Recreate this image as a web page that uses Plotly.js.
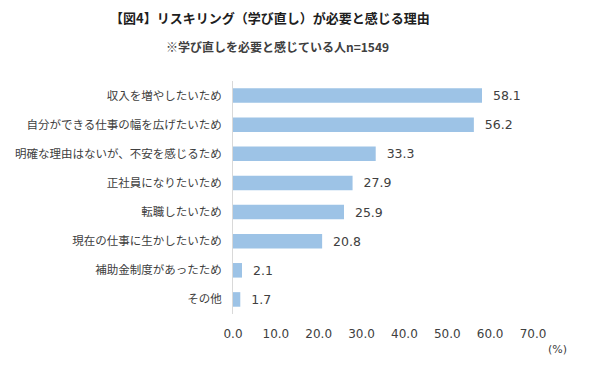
<!DOCTYPE html>
<html><head><meta charset="utf-8">
<script src="https://cdn.plot.ly/plotly-3.0.1.min.js"></script>
<style>html,body{margin:0;padding:0;background:#fff;}</style>
</head><body>
<div id="chart" style="width:590px;height:369px;"></div>
<script>
const categories = ["収入を増やしたいため","自分ができる仕事の幅を広げたいため","明確な理由はないが、不安を感じるため","正社員になりたいため","転職したいため","現在の仕事に生かしたいため","補助金制度があったため","その他"];
const values = [58.1, 56.2, 33.3, 27.9, 25.9, 20.8, 2.1, 1.7];
const xTicks = [0,10,20,30,40,50,60,70];
const font = "'Noto Sans CJK JP', 'Noto Sans', sans-serif";
const numFont = "'DejaVu Sans', Verdana, sans-serif";
const trace = {
  type: 'bar', orientation: 'h',
  x: values, y: categories,
  marker: {color: '#9DC3E6'},
  text: values.map(v => '\u00a0\u00a0' + v.toFixed(1)),
  textposition: 'outside', cliponaxis: false, constraintext: 'none',
  textfont: {family: numFont, size: 12.5, color: '#404040'},
  hoverinfo: 'none'
};
const layout = {
  width: 590, height: 369,
  margin: {l: 233, r: 57, t: 81, b: 55},
  paper_bgcolor: '#fff', plot_bgcolor: '#fff',
  showlegend: false,
  bargap: 0.5,
  font: {family: font, color: '#404040'},
  xaxis: {range: [0,70], tickvals: xTicks, ticktext: xTicks.map(v=>v.toFixed(1)),
    showgrid: false, zeroline: false, showline: false, ticks: '',
    ticklabelstandoff: 11,
    tickfont: {family: numFont, size: 12, color: '#404040'}, fixedrange: true},
  yaxis: {autorange: 'reversed', showgrid: false, zeroline: false,
    showline: true, linecolor: '#d9d9d9', linewidth: 1, ticks: '',
    ticklabelstandoff: 8,
    tickfont: {size: 11.5, color: '#404040'}, fixedrange: true},
  annotations: [
    {text: '<b>【図4】リスキリング（学び直し）が必要と感じる理由</b>', showarrow: false, font: {size: 13, color: '#202020'}},
    {text: '<b>※学び直しを必要と感じている人n=1549</b>', showarrow: false,
     font: {size: 12, color: '#404040'}},
    {text: '(%)', showarrow: false, font: {family: numFont, size: 11, color: '#404040'}}
  ]
};
const pw = 590 - 233 - 57, ph = 369 - 81 - 55;
function px(x){return (x-233)/pw;}
function py(y){return (369-55-y)/ph;}
layout.annotations[0].x = px(270); layout.annotations[0].y = py(17);
layout.annotations[1].x = px(277); layout.annotations[1].y = py(47);
layout.annotations[2].x = px(557); layout.annotations[2].y = py(349);
layout.annotations.forEach(a=>{a.xref='paper';a.yref='paper';a.xanchor='center';a.yanchor='middle';});
Plotly.newPlot('chart', [trace], layout, {displayModeBar: false, staticPlot: true});
</script>
</body></html>
